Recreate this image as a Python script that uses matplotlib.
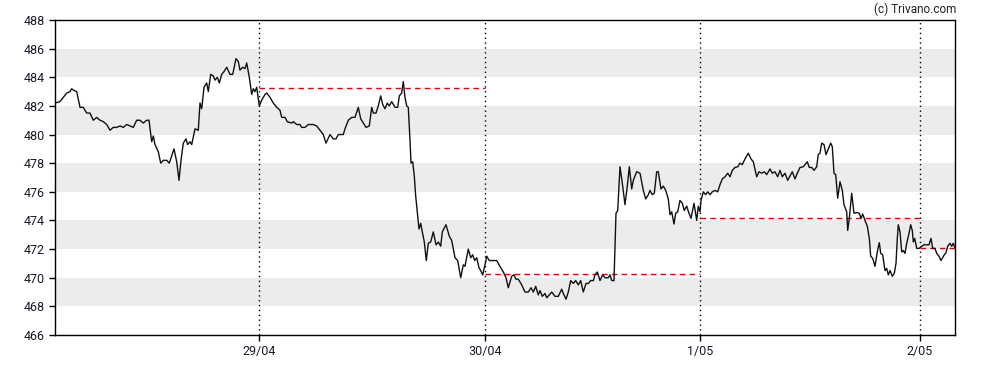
import matplotlib.pyplot as plt
import numpy as np

# session position (sample index) and price for each trading day
t_d0 = [0.0, 5.0, 8.3, 11.7, 15.0, 16.7, 18.3, 21.7, 25.0, 28.3, 31.7, 35.0, 38.3, 41.7,
        45.0, 48.3, 51.7, 55.0, 58.3, 61.7, 65.0, 68.3, 71.7, 75.0, 78.3, 81.7, 85.0, 88.3,
        91.7, 94.0, 96.7, 98.3, 100.0, 103.3, 105.7, 108.3, 111.7, 114.3, 116.7, 119.0, 121.7,
        124.0, 126.0, 128.3, 131.0, 132.7, 135.0, 136.7, 140.0, 143.3, 145.0, 146.7, 149.0,
        151.7, 153.3, 155.7, 158.3, 160.0, 162.3, 164.3, 166.7, 169.0, 171.7, 175.0, 177.7,
        181.0, 183.3, 185.0, 187.7, 190.0, 191.7, 194.3, 196.7, 198.3, 200.0, 201.7]
p_d0 = [482.2, 482.3, 482.6, 482.9, 483.0, 483.2, 483.1, 483.0, 481.9, 481.9, 481.5, 481.5,
        481.0, 481.2, 481.0, 480.9, 480.7, 480.3, 480.5, 480.5, 480.6, 480.5, 480.7, 480.6,
        480.5, 481.0, 481.0, 480.8, 481.0, 481.0, 479.5, 479.9, 479.3, 478.8, 478.0, 478.2,
        478.2, 478.0, 478.5, 479.0, 478.1, 476.8, 478.2, 479.4, 479.7, 479.3, 479.5, 479.3,
        480.4, 480.3, 482.2, 481.8, 483.3, 483.6, 483.0, 484.2, 484.1, 483.8, 484.0, 483.6,
        484.2, 484.4, 484.7, 484.2, 484.2, 485.3, 485.1, 484.5, 484.7, 484.6, 485.0, 484.0,
        482.8, 483.2, 483.0, 483.3]

t_d1 = [204.3, 206.7, 210.0, 211.7, 215.0, 218.3, 221.7, 225.0, 226.7, 230.0, 232.3, 236.7,
        238.3, 241.7, 245.0, 246.7, 250.0, 253.3, 258.3, 261.7, 265.0, 268.3, 271.0, 275.0,
        278.3, 281.0, 283.3, 288.3, 290.0, 293.3, 296.7, 300.0, 303.3, 305.7, 308.3, 311.0,
        314.3, 316.7, 318.3, 321.0, 323.3, 325.7, 327.7, 330.0, 332.3, 334.3, 336.7, 340.0,
        342.7, 344.3, 346.7, 348.3, 350.0, 351.7, 353.3, 355.0, 356.0, 357.7, 359.3, 360.7,
        361.7, 362.7, 364.0, 365.7, 367.3, 369.3, 371.3, 373.3, 375.7, 378.3, 381.0, 383.3,
        385.7, 387.3, 391.0, 394.3, 396.7, 400.0, 402.7, 405.7, 408.3, 410.0, 413.3, 415.7,
        417.7, 419.7, 421.7, 424.0, 425.7, 427.7]
p_d1 = [482.0, 482.4, 482.8, 482.9, 482.6, 482.2, 481.9, 481.7, 481.2, 481.2, 480.9, 480.8,
        480.9, 480.7, 480.7, 480.5, 480.5, 480.7, 480.7, 480.6, 480.3, 480.0, 479.4, 480.0,
        479.7, 479.7, 480.0, 480.0, 480.4, 481.0, 481.2, 481.2, 481.9, 481.1, 480.8, 480.5,
        480.6, 481.9, 481.5, 481.5, 482.0, 482.7, 482.1, 481.8, 482.2, 482.0, 482.3, 481.9,
        481.9, 482.7, 482.9, 483.7, 482.6, 482.0, 481.9, 479.6, 478.0, 478.1, 477.1, 475.7,
        475.0, 474.3, 473.4, 473.8, 473.2, 472.5, 471.2, 472.4, 472.5, 473.2, 472.3, 472.5,
        472.2, 473.2, 473.7, 472.9, 472.6, 471.4, 471.2, 470.0, 470.9, 470.8, 472.0, 471.4,
        471.6, 471.2, 471.4, 470.7, 470.5, 470.2]

t_d2 = [430.3, 431.7, 434.3, 438.3, 441.7, 443.3, 445.7, 448.3, 451.0, 453.3, 456.7, 459.0,
        461.0, 463.3, 466.7, 470.0, 473.3, 476.0, 478.3, 480.7, 483.3, 485.0, 487.3, 490.0,
        491.7, 494.3, 496.7, 500.0, 503.3, 506.7, 508.3, 511.0, 513.3, 515.7, 518.3, 520.7,
        523.3, 525.7, 528.3, 531.0, 533.3, 535.7, 538.3, 540.0, 542.3, 545.0, 547.7, 550.0,
        553.3, 555.0, 556.7, 559.0, 561.0, 562.7, 565.0, 567.3, 570.0, 572.3, 574.3, 576.7,
        578.3, 581.7, 585.0, 588.3, 590.7, 593.3, 595.0, 597.3, 599.3, 601.7, 603.3, 606.0,
        608.3, 610.7, 613.3, 615.0, 616.7, 619.0, 620.7, 622.7, 625.0, 627.3, 629.3, 631.7,
        634.0, 636.0, 639.0, 641.7, 643.3]
p_d2 = [471.0, 471.5, 471.2, 471.2, 471.2, 471.0, 470.7, 470.4, 470.0, 469.3, 470.1, 470.2,
        469.9, 469.9, 469.5, 469.0, 469.0, 469.3, 469.0, 469.4, 468.8, 469.1, 468.7, 468.9,
        468.6, 468.8, 469.0, 468.7, 468.7, 469.2, 468.9, 468.5, 469.0, 469.8, 469.6, 469.8,
        469.5, 469.8, 469.0, 469.6, 469.6, 469.8, 469.8, 470.2, 470.4, 469.8, 470.2, 470.0,
        470.0, 470.2, 469.8, 469.8, 474.5, 474.7, 477.75, 476.6, 475.1, 476.4, 477.75, 476.2,
        476.8, 477.4, 477.3, 476.1, 475.5, 475.8, 476.1, 475.8, 475.9, 477.4, 477.4, 476.2,
        476.4, 476.1, 475.5, 474.4, 474.6, 473.75, 474.5, 474.6, 475.4, 475.2, 474.7, 475.0,
        474.5, 474.15, 475.2, 474.0, 475.0]

t_d3 = [645.0, 646.0, 648.3, 650.7, 652.7, 655.0, 657.3, 660.0, 662.7, 665.0, 667.3, 670.0,
        672.7, 675.0, 677.3, 680.0, 682.7, 685.0, 687.3, 690.0, 693.3, 696.0, 698.3, 701.7,
        704.0, 706.7, 709.3, 711.7, 715.0, 717.3, 720.0, 722.7, 725.0, 727.3, 730.0, 732.7,
        735.0, 737.3, 740.0, 742.3, 745.0, 748.3, 752.3, 754.3, 756.7, 759.0, 761.7, 763.3,
        765.0, 766.7, 769.0, 771.0, 773.3, 775.7, 777.3, 779.0, 780.7, 782.7, 785.0, 787.3,
        789.0, 791.7, 792.7, 794.3, 796.7, 799.0, 801.7, 804.3, 806.0, 807.7, 810.0, 812.3,
        814.3, 815.7, 817.7, 820.0, 822.3, 824.3, 825.7, 827.7, 830.0, 831.7, 833.3, 835.0,
        837.3, 839.3, 841.0, 842.3, 843.3, 845.0, 846.7, 848.3, 850.0, 851.7, 854.0, 855.7,
        857.3, 858.3, 859.7, 861.7]
p_d3 = [474.6, 475.4, 476.0, 475.8, 476.0, 475.8, 476.0, 476.1, 476.0, 476.5, 476.9, 477.05,
        477.3, 477.05, 477.5, 477.7, 477.75, 478.0, 477.9, 478.3, 478.7, 478.3, 478.1, 477.05,
        477.4, 477.3, 477.4, 477.2, 477.6, 477.3, 477.4, 477.05, 477.5, 477.05, 477.3, 476.8,
        477.1, 477.4, 476.9, 477.3, 477.7, 477.75, 478.1, 477.7, 477.7, 477.5, 477.75, 478.6,
        478.7, 479.4, 479.3, 478.6, 479.0, 479.4, 479.15, 477.3, 477.2, 475.55, 476.7, 476.1,
        475.1, 474.6, 473.3, 474.15, 475.9, 474.5, 474.55, 474.5, 474.15, 474.45, 474.0, 473.6,
        472.75, 471.5, 471.35, 470.8, 471.8, 472.45, 471.7, 471.6, 470.5, 470.65, 470.2, 470.5,
        470.1, 470.3, 471.0, 472.75, 473.7, 473.2, 471.8, 471.9, 471.7, 472.4, 473.1, 473.7,
        473.3, 472.5, 472.75, 472.05]

t_d4 = [864.3, 866.7, 869.0, 871.7, 874.0, 876.0, 877.7, 880.0, 881.7, 884.0, 886.0, 887.7,
        889.3, 891.0, 892.7, 895.0, 896.7, 898.3, 900.0]
p_d4 = [472.05, 472.2, 472.3, 472.3, 472.3, 472.75, 472.05, 472.05, 471.7, 471.5, 471.2,
        471.4, 471.6, 471.75, 472.2, 472.4, 472.2, 472.4, 472.1]

day_pos = [204, 430, 645, 865]
day_labels = ['29/04', '30/04', '1/05', '2/05']
prev_close = [483.25, 470.25, 474.2, 472.05]
x_end = 900

t = t_d0 + t_d1 + t_d2 + t_d3 + t_d4
price = p_d0 + p_d1 + p_d2 + p_d3 + p_d4

fig = plt.figure(figsize=(9.88, 3.70), dpi=100)
ax = fig.add_axes([55 / 988, 35 / 370, 900 / 988, 315 / 370])

# grey bands every other 2-unit step
for lo in range(468, 488, 4):
    ax.axhspan(lo, lo + 2, color='#ececec', lw=0, zorder=0)

for p in day_pos:
    ax.axvline(p, color='black', ls=(0, (1, 2.5)), lw=1, zorder=1)

ends = day_pos[1:] + [x_end]
for start, stop, pc in zip(day_pos, ends, prev_close):
    ax.hlines(pc, start, stop, colors='#e8000b', linestyles=(0, (4, 3)), lw=1, zorder=2)

ax.plot(t, price, color='#111111', lw=1, zorder=3)

ax.set_xlim(0, x_end)
ax.set_ylim(466, 488)
ax.set_yticks(np.arange(466, 489, 2))
ax.set_xticks(day_pos)
ax.set_xticklabels(day_labels)
ax.tick_params(labelsize=9, length=4, width=1, colors='black', labelcolor='#1a1a2a')
for s in ax.spines.values():
    s.set_color('black')
    s.set_linewidth(1)

for lbl in ax.get_xticklabels() + ax.get_yticklabels():
    lbl.set_fontfamily('Roboto')

fig.text(956 / 988, 1 - 9 / 370, '(c) Trivano.com', ha='right', va='center',
         fontsize=8.5, family='Roboto', color='#222222')

fig.savefig('out.png', dpi=100)
